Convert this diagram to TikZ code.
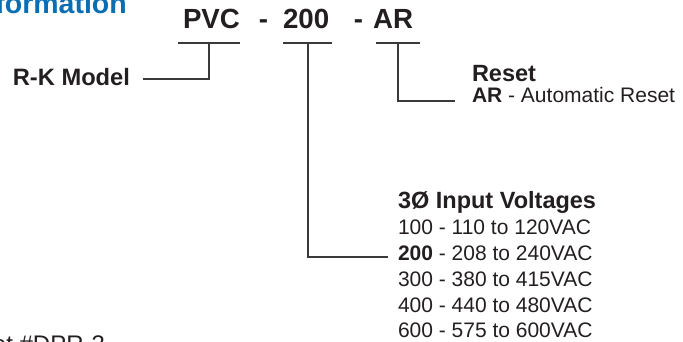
\documentclass[tikz,border=0pt]{standalone}
\usepackage{fontspec}
\setmainfont{Liberation Sans}
\definecolor{ink}{HTML}{231F20}
\definecolor{linegray}{HTML}{3A3A3A}
\definecolor{titleblue}{HTML}{0A6EB4}
\begin{document}
\begin{tikzpicture}[x=1pt,y=-1pt,
  txt/.style={inner sep=0pt,outer sep=0pt,text=ink},
  code/.style={txt,font=\fontsize{27.7}{30}\selectfont\bfseries},
  head/.style={txt,font=\fontsize{23.5}{26}\selectfont\bfseries},
  body/.style={txt,font=\fontsize{21}{24}\selectfont},
  conn/.style={draw=linegray,line width=1.3pt}]
\useasboundingbox (0,0) rectangle (683,341);
% title (cut off)
\node[inner sep=0pt,anchor=base east,text=titleblue,font=\fontsize{28.5}{30}\selectfont\bfseries] (title) at (127,13) {Ordering Information};
% code
\node[code,anchor=base west] (pvc) at (183,28) {PVC};
\node[code,anchor=base] (d1) at (263.5,28) {-};
\node[code,anchor=base west] (v200) at (283,28) {200};
\node[code,anchor=base] (d2) at (358.5,28) {-};
\node[code,anchor=base west] (ar) at (373,28) {AR};
% bars
\coordinate (pvcL) at (178,43); \coordinate (pvcR) at (240,43); \coordinate (pvcM) at (209,43);
\coordinate (vL) at (283,43); \coordinate (vR) at (332,43); \coordinate (vM) at (308,43);
\coordinate (arL) at (376,43); \coordinate (arR) at (420,43); \coordinate (arM) at (398,43);
\draw[conn] (pvcL) -- (pvcR);
\draw[conn] (vL) -- (vR);
\draw[conn] (arL) -- (arR);
% R-K model
\node[head,anchor=base east,font=\fontsize{23.7}{26}\selectfont\bfseries] (rk) at (130,85) {R-K Model};
\coordinate (rkend) at (143,79);
\draw[conn] (pvcM) |- (rkend);
% Reset
\node[head,anchor=base west] (reset) at (472,81) {Reset};
\node[body,anchor=base west] (arline) at (472,102) {\textbf{AR} - Automatic Reset};
\coordinate (arend) at (455,101);
\draw[conn] (arM) |- (arend);
% Voltages
\node[head,anchor=base west] (volt) at (398,208) {3Ø Input Voltages};
\node[body,anchor=base west] (l1) at (398,234) {100 - 110 to 120VAC};
\node[body,anchor=base west] (l2) at (398,260) {\textbf{200} - 208 to 240VAC};
\node[body,anchor=base west] (l3) at (398,286) {300 - 380 to 415VAC};
\node[body,anchor=base west] (l4) at (398,312) {400 - 440 to 480VAC};
\node[body,anchor=base west] (l5) at (398,337.5) {600 - 575 to 600VAC};
\coordinate (vend) at (388,257);
\draw[conn] (vM) |- (vend);
% bottom cut text
\node[body,anchor=base east,font=\fontsize{24}{26}\selectfont] (foot) at (105,352) {See Data Sheet \#DPR-3};
\end{tikzpicture}
\end{document}
